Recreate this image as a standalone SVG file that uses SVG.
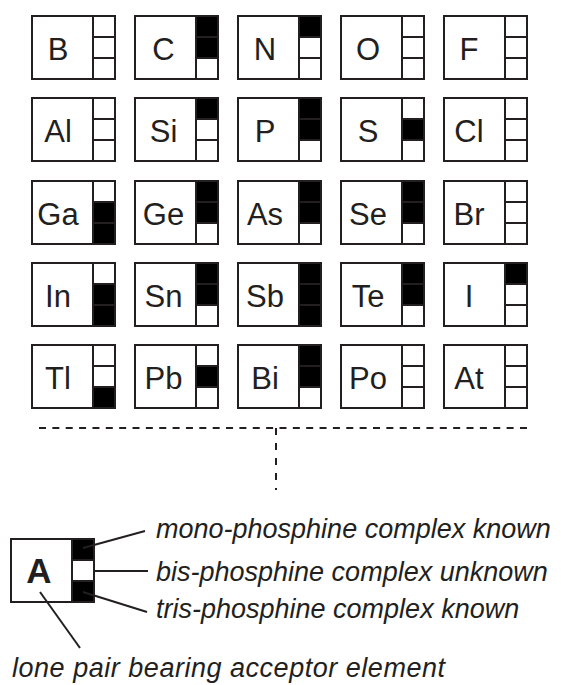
<svg xmlns="http://www.w3.org/2000/svg" xmlns:xlink="http://www.w3.org/1999/xlink" width="561" height="685" viewBox="0 0 561 685">
<style>
.el{font-family:"Liberation Sans",Arial,sans-serif;font-size:31px;fill:#231f20;text-anchor:middle}
.f{fill:#000}
.ln{stroke:#231f20;stroke-width:2;fill:none}
.lg{font-family:"Liberation Sans",Arial,sans-serif;font-size:27px;font-style:italic;fill:#231f20}
.big{font-family:"Liberation Sans",Arial,sans-serif;font-size:35px;font-weight:bold;fill:#231f20;text-anchor:middle}
</style>
<defs>
<g id="frame"><rect x="0" y="0" width="83" height="63" class="ln"/><path d="M61 0V63M61 21H83M61 42H83" class="ln"/></g>
<rect id="t" x="61" y="0" width="22" height="21" class="f"/>
<rect id="m" x="61" y="21" width="22" height="21" class="f"/>
<rect id="b" x="61" y="42" width="22" height="21" class="f"/>
</defs>
<rect width="561" height="685" fill="#fff"/>
<g id="B" transform="translate(32,16)"><use xlink:href="#frame"/><text class="el" x="26" y="44">B</text></g>
<g id="C" transform="translate(135,16)"><use xlink:href="#t"/><use xlink:href="#m"/><use xlink:href="#frame"/><text class="el" x="28.5" y="44">C</text></g>
<g id="N" transform="translate(238,16)"><use xlink:href="#t"/><use xlink:href="#frame"/><text class="el" x="27" y="44">N</text></g>
<g id="O" transform="translate(341,16)"><use xlink:href="#frame"/><text class="el" x="27" y="44">O</text></g>
<g id="F" transform="translate(444,16)"><use xlink:href="#frame"/><text class="el" x="25" y="44">F</text></g>
<g id="Al" transform="translate(32,98)"><use xlink:href="#frame"/><text class="el" x="26" y="44">Al</text></g>
<g id="Si" transform="translate(135,98)"><use xlink:href="#t"/><use xlink:href="#frame"/><text class="el" x="28.5" y="44">Si</text></g>
<g id="P" transform="translate(238,98)"><use xlink:href="#t"/><use xlink:href="#m"/><use xlink:href="#frame"/><text class="el" x="27" y="44">P</text></g>
<g id="S" transform="translate(341,98)"><use xlink:href="#m"/><use xlink:href="#frame"/><text class="el" x="27" y="44">S</text></g>
<g id="Cl" transform="translate(444,98)"><use xlink:href="#frame"/><text class="el" x="25" y="44">Cl</text></g>
<g id="Ga" transform="translate(32,181)"><use xlink:href="#m"/><use xlink:href="#b"/><use xlink:href="#frame"/><text class="el" x="26" y="44">Ga</text></g>
<g id="Ge" transform="translate(135,181)"><use xlink:href="#t"/><use xlink:href="#m"/><use xlink:href="#frame"/><text class="el" x="28.5" y="44">Ge</text></g>
<g id="As" transform="translate(238,181)"><use xlink:href="#t"/><use xlink:href="#m"/><use xlink:href="#frame"/><text class="el" x="27" y="44">As</text></g>
<g id="Se" transform="translate(341,181)"><use xlink:href="#t"/><use xlink:href="#m"/><use xlink:href="#frame"/><text class="el" x="27" y="44">Se</text></g>
<g id="Br" transform="translate(444,181)"><use xlink:href="#frame"/><text class="el" x="25" y="44">Br</text></g>
<g id="In" transform="translate(32,263)"><use xlink:href="#m"/><use xlink:href="#b"/><use xlink:href="#frame"/><text class="el" x="26" y="44">In</text></g>
<g id="Sn" transform="translate(135,263)"><use xlink:href="#t"/><use xlink:href="#m"/><use xlink:href="#frame"/><text class="el" x="28.5" y="44">Sn</text></g>
<g id="Sb" transform="translate(238,263)"><use xlink:href="#t"/><use xlink:href="#m"/><use xlink:href="#b"/><use xlink:href="#frame"/><text class="el" x="27" y="44">Sb</text></g>
<g id="Te" transform="translate(341,263)"><use xlink:href="#t"/><use xlink:href="#m"/><use xlink:href="#frame"/><text class="el" x="27" y="44">Te</text></g>
<g id="I" transform="translate(444,263)"><use xlink:href="#t"/><use xlink:href="#frame"/><text class="el" x="25" y="44">I</text></g>
<g id="Tl" transform="translate(32,345)"><use xlink:href="#b"/><use xlink:href="#frame"/><text class="el" x="26" y="44">Tl</text></g>
<g id="Pb" transform="translate(135,345)"><use xlink:href="#m"/><use xlink:href="#frame"/><text class="el" x="28.5" y="44">Pb</text></g>
<g id="Bi" transform="translate(238,345)"><use xlink:href="#t"/><use xlink:href="#m"/><use xlink:href="#frame"/><text class="el" x="27" y="44">Bi</text></g>
<g id="Po" transform="translate(341,345)"><use xlink:href="#frame"/><text class="el" x="27" y="44">Po</text></g>
<g id="At" transform="translate(444,345)"><use xlink:href="#frame"/><text class="el" x="25" y="44">At</text></g>
<g id="legend" transform="translate(11,539)">
<use xlink:href="#t"/><use xlink:href="#b"/><use xlink:href="#frame"/>
<path d="M63 23H81V40H63Z" fill="#fff"/>
<text class="big" x="28" y="44">A</text>
</g>
<g id="connectors" class="ln">
<path d="M39 428H527" stroke-dasharray="7 6.36"/>
<path d="M276 428V490" stroke-dasharray="7 8"/>
<path d="M83 548L145 531"/>
<path d="M95 571H148"/>
<path d="M83 592L147 612"/>
<path d="M40 592L80 648"/>
</g>
<g id="labels">
<text class="lg" x="156" y="538">mono-phosphine complex known</text>
<text class="lg" x="156" y="581">bis-phosphine complex unknown</text>
<text class="lg" x="156" y="618">tris-phosphine complex known</text>
<text class="lg" x="12" y="677" textLength="433">lone pair bearing acceptor element</text>
</g>
</svg>
